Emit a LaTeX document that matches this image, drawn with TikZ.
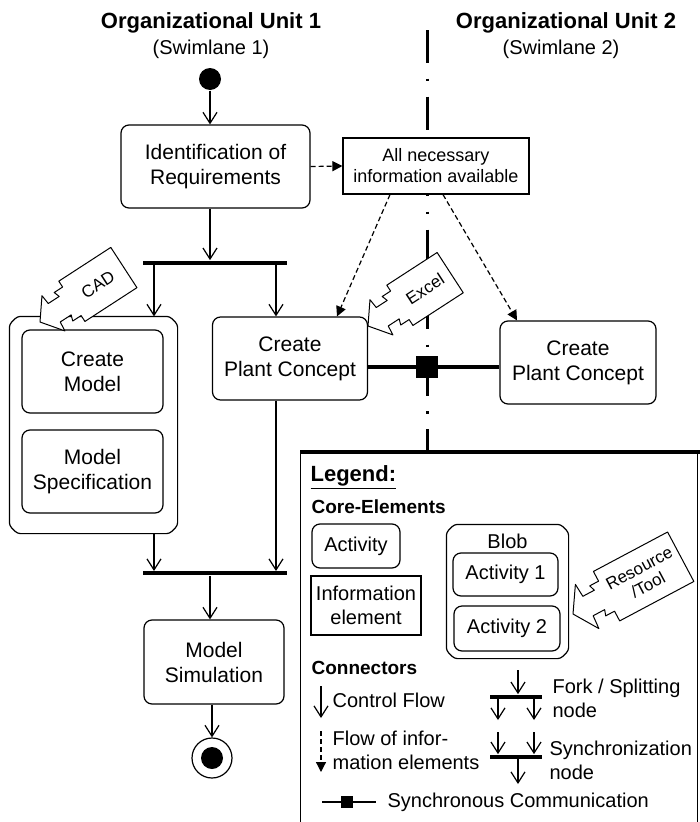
\documentclass[tikz,border=0pt]{standalone}
\usepackage{fontspec}
\setmainfont{Liberation Sans}
\usetikzlibrary{arrows.meta}

\newcommand\boxfont{\fontsize{21}{25}\selectfont}
\newcommand\infofont{\fontsize{18}{21}\selectfont}
\newcommand\toolfont{\fontsize{17}{19}\selectfont}
\newcommand\legfont{\fontsize{20}{24}\selectfont}
\newcommand\headfont{\fontsize{22}{26}\selectfont\bfseries}
\newcommand\secfont{\fontsize{19}{23}\selectfont\bfseries}
\newcommand\subfont{\fontsize{20}{24}\selectfont}

% resource arrow: tip, angle, body length, half width, text
\newcommand\toolcallout[5]{%
  \begin{scope}[shift={#1},rotate=#2]
    \draw[tool] (0,0) -- (16,{-#4+3}) -- (17,-11) -- (30,-11) -- (28,-17) -- (38,-17) -- (38,-#4)
      -- ({38+#3},-#4) -- ({38+#3},#4) -- (38,#4) -- (38,17) -- (28,17) -- (30,11)
      -- (17,11) -- (16,{#4-3}) -- cycle;
    \node[tooltext, rotate=#2] at ({38+#3/2},0) {#5};
  \end{scope}}

% frame of a blob node, corners cut
\newcommand\blobframe[1]{%
  \draw[rounded corners=3pt] ([xshift=8pt]#1.north west) -- ([xshift=-8pt]#1.north east)
    -- ([yshift=-8pt]#1.north east) -- ([yshift=8pt]#1.south east)
    -- ([xshift=-8pt]#1.south east) -- ([xshift=8pt]#1.south west)
    -- ([yshift=8pt]#1.south west) -- ([yshift=-8pt]#1.north west) -- cycle;}

\begin{document}
\begin{tikzpicture}[x=1pt,y=-1pt,line width=1.2pt,
    act/.style={draw, fill=white, rounded corners=8pt, align=center, inner sep=0pt, font=\boxfont},
    info/.style={draw, fill=white, align=center, inner sep=0pt, font=\infofont},
    blob/.style={inner sep=0pt},
    bar/.style={fill=black, inner sep=0pt, minimum height=4.5pt},
    flow/.style={-{Straight Barb[length=11pt,width=14pt]}},
    infoflow/.style={dashed, dash pattern=on 5pt off 3pt, -{Triangle[length=10pt,width=10pt]}},
    lane/.style={line width=3pt, dash pattern=on 33pt off 15.5pt on 2.5pt off 15.5pt},
    tool/.style={draw, fill=white, line width=1pt, line join=round},
    tooltext/.style={align=center, inner sep=0pt, font=\toolfont},
    legtext/.style={anchor=west, align=left, inner sep=0pt, font=\legfont}]
  \useasboundingbox (0,0) rectangle (699,822);

  % swimlanes
  \node[font=\headfont] (unitA) at (211,23) {Organizational Unit 1};
  \node[font=\subfont] (laneA) at (211,49) {(Swimlane 1)};
  \node[font=\headfont] (unitB) at (566,23) {Organizational Unit 2};
  \node[font=\subfont] (laneB) at (561,49) {(Swimlane 2)};
  \draw[lane] (427,30) -- (427,452);

  % activities of unit 1
  \node[circle, fill, minimum size=22pt, inner sep=0pt] (start) at (210,79) {};
  \node[act, minimum width=189pt, minimum height=83pt] (ident) at (215.5,166.5) {Identification of\\Requirements};
  \node[info, minimum width=186pt, minimum height=56pt] (info) at (436,166) {All necessary\\information available};
  \node[bar, minimum width=144pt] (forkA) at (215,263) {};
  \node[blob, minimum width=167pt, minimum height=216pt] (blob) at (93.5,425) {};
  \blobframe{blob}
  \node[act, minimum width=141pt, minimum height=83pt] (model) at (92.5,371.5) {Create\\Model};
  \node[act, minimum width=141pt, minimum height=83pt] (spec) at (92.5,471.5) {Model\\Specification};
  \node[act, minimum width=155pt, minimum height=83pt] (conceptA) at (290,358.5) {Create\\Plant Concept};
  \node[bar, minimum width=144pt] (joinA) at (215,573) {};
  \node[act, minimum width=140pt, minimum height=84pt] (sim) at (214,662) {Model\\Simulation};
  \node[circle, draw, minimum size=40pt, inner sep=0pt] (end) at (212,758) {};
  \node[circle, fill, minimum size=22pt, inner sep=0pt] (endDot) at (end) {};

  % activity of unit 2
  \node[act, minimum width=156pt, minimum height=83pt] (conceptB) at (578,362.5) {Create\\Plant Concept};

  % control flow
  \coordinate (forkL) at (154,263);
  \coordinate (forkR) at (276,263);
  \coordinate (joinL) at (154,571);
  \coordinate (joinR) at (276,571);
  \draw[flow] (start) -- (start |- ident.north);
  \draw[flow] (start |- ident.south) -- (start |- forkA.north);
  \draw[flow] (forkL) -- (forkL |- blob.north);
  \draw[flow] (forkR) -- (forkR |- conceptA.north);
  \draw[flow] (joinL |- blob.south) -- (joinL);
  \draw[flow] (joinR |- conceptA.south) -- (joinR);
  \draw[flow] (start |- joinA.south) -- (start |- sim.north);
  \draw[flow] (end |- sim.south) -- (end.north);

  % information flow
  \draw[infoflow] (ident.east) -- (info.west);
  \draw[infoflow] ([xshift=-46pt]info.south) -- ([xshift=47pt]conceptA.north);
  \draw[infoflow] ([xshift=7pt]info.south) -- ([xshift=-61pt]conceptB.north);

  % synchronous communication
  \node[fill, minimum size=22pt, inner sep=0pt] (sync) at (427,367) {};
  \draw[line width=3.5pt] (sync -| conceptA.east) -- (sync -| conceptB.west);

  % tools
  \toolcallout{(368,326)}{33}{60}{24}{Excel}
  \toolcallout{(40,322)}{33}{62}{24}{CAD}

  % legend
  \node[draw, anchor=north west, minimum width=397pt, minimum height=380pt] (legend) at (300,452) {};
  \draw[line width=4.5pt] (legend.north west) -- ([xshift=3pt]legend.north east);
  \node[anchor=west, inner sep=0pt, font=\headfont] (legTitle) at (310,477) {\underline{Legend:}};
  \node[anchor=west, inner sep=0pt, font=\secfont] (core) at (311,507) {Core-Elements};
  \node[act, font=\legfont, minimum width=88pt, minimum height=44pt] (lact) at (356,546) {Activity};
  \node[info, font=\legfont, minimum width=110pt, minimum height=59pt] (linfo) at (366,605.5) {Information\\element};
  \node[blob, minimum width=121pt, minimum height=133pt] (lblob) at (507.5,591.5) {};
  \blobframe{lblob}
  \node[font=\legfont, inner sep=0pt] (lblobName) at (507.5,541) {Blob};
  \node[act, font=\legfont, minimum width=105pt, minimum height=43pt] (lactA) at (505.5,574.5) {Activity 1};
  \node[act, font=\legfont, minimum width=106pt, minimum height=45pt] (lactB) at (507,628.5) {Activity 2};
  \toolcallout{(573,614)}{28}{84}{28}{Resource\\/Tool}

  \node[anchor=west, inner sep=0pt, font=\secfont] (conn) at (311,668) {Connectors};
  \coordinate (cfTop) at (321,686);
  \coordinate (cfBot) at (321,718);
  \draw[flow] (cfTop) -- (cfBot);
  \node[legtext] (cfText) at (332,700) {Control Flow};
  \coordinate (ifTop) at (321,731);
  \coordinate (ifBot) at (321,772);
  \draw[infoflow] (ifTop) -- (ifBot);
  \node[legtext] (ifText) at (332,750) {Flow of infor-\\mation elements};

  \node[bar, minimum width=52pt] (lfork) at (516,697) {};
  \coordinate (lforkIn) at (518,670);
  \coordinate (lforkL) at (498,720);
  \coordinate (lforkR) at (534,720);
  \draw[flow] (lforkIn) -- (lforkIn |- lfork.north);
  \draw[flow] (lforkL |- lfork) -- (lforkL);
  \draw[flow] (lforkR |- lfork) -- (lforkR);
  \node[legtext] (lforkText) at (552,698) {Fork / Splitting\\node};

  \node[bar, minimum width=52pt] (ljoin) at (516,757) {};
  \coordinate (ljoinL) at (498,732);
  \coordinate (ljoinR) at (534,732);
  \coordinate (ljoinOut) at (518,784);
  \draw[flow] (ljoinL) -- (ljoinL |- ljoin.north);
  \draw[flow] (ljoinR) -- (ljoinR |- ljoin.north);
  \draw[flow] (ljoinOut |- ljoin) -- (ljoinOut);
  \node[legtext] (ljoinText) at (549,760) {Synchronization\\node};

  \coordinate (lscA) at (322,802);
  \coordinate (lscB) at (376,802);
  \draw (lscA) -- (lscB);
  \node[fill, minimum size=12pt, inner sep=0pt] (lsync) at (347,802) {};
  \node[legtext] (lscText) at (387,802) {Synchronous Communication};
\end{tikzpicture}
\end{document}
